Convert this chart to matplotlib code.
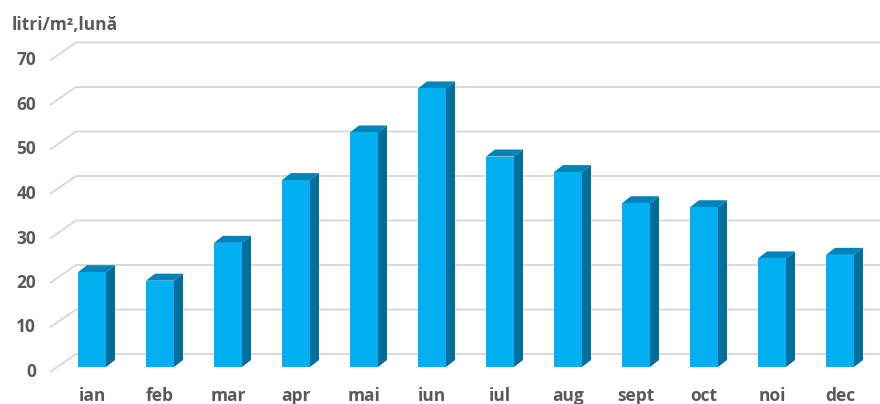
import matplotlib
matplotlib.use("Agg")
import matplotlib.pyplot as plt
from matplotlib.patches import Polygon

months = ["ian", "feb", "mar", "apr", "mai", "iun", "iul", "aug", "sept", "oct", "noi", "dec"]
rain = [21.3, 19.4, 27.9, 42.0, 52.7, 62.6, 47.3, 43.8, 36.8, 35.9, 24.4, 25.2]
yticks = [0, 10, 20, 30, 40, 50, 60, 70]
title = "litri/m²,lună"

FRONT = "#00B0F0"
SIDE = "#006E9C"
TOP = "#0083B8"
GRID = "#D9D9D9"
TXT = "#595959"
FONT = ["Open Sans", "DejaVu Sans"]
FS = 12.5

W, H, DPI = 880, 404, 100
fig = plt.figure(figsize=(W / DPI, H / DPI), dpi=DPI)
ax = fig.add_axes([0, 0, 1, 1])
ax.axis("off")

# pixel mapping: x=0 -> 92 px, 68 px per category; v=0 -> 37 px from bottom, 4.45 px per unit
px_per_cat, px_per_unit = 68.0, 4.45
x0_px, y0_px = 92.0, 37.0
ax.set_xlim(-x0_px / px_per_cat, (W - x0_px) / px_per_cat)
ax.set_ylim(-y0_px / px_per_unit, (H - y0_px) / px_per_unit)

def dxc(px):
    return px / px_per_cat

def dyv(px):
    return px / px_per_unit

bw = dxc(28)
bar_dx, bar_dy = dxc(9), dyv(7)
back_dx, back_dy = dxc(19), dyv(13)
front_dx, front_dy = dxc(-7), dyv(-5)
wall_x = dxc(57 - x0_px)
x_right = (W - x0_px) / px_per_cat + 1

# gridlines (wall)
for v in yticks:
    ax.plot([wall_x + front_dx, wall_x + back_dx, x_right],
            [v + front_dy, v + back_dy, v + back_dy],
            color=GRID, lw=1.4, zorder=1, solid_capstyle="butt")
    ax.text(dxc(36 - x0_px), v + front_dy, str(v), ha="right", va="center",
            fontsize=FS, fontweight="bold", color=TXT, family=FONT)

xs = list(range(len(months)))
ax.bar(xs, rain, width=bw, color=FRONT, zorder=3, linewidth=0)
for x, v in zip(xs, rain):
    xl, xr = x - bw / 2, x + bw / 2
    side = Polygon([(xr, 0), (xr + bar_dx, bar_dy), (xr + bar_dx, v + bar_dy), (xr, v)],
                   closed=True, facecolor=SIDE, edgecolor="none", zorder=2)
    top = Polygon([(xl, v), (xl + bar_dx, v + bar_dy), (xr + bar_dx, v + bar_dy), (xr, v)],
                  closed=True, facecolor=TOP, edgecolor="none", zorder=2)
    ax.add_patch(side)
    ax.add_patch(top)
    ax.text(x, dyv(3 - y0_px), months[x], ha="center", va="baseline",
            fontsize=FS, fontweight="bold", color=TXT, family=FONT)

fig.text(12 / W, 1 - 25 / H, title, ha="left", va="center",
         fontsize=FS, fontweight="bold", color=TXT, family=FONT)

fig.savefig("out.png", dpi=DPI)
